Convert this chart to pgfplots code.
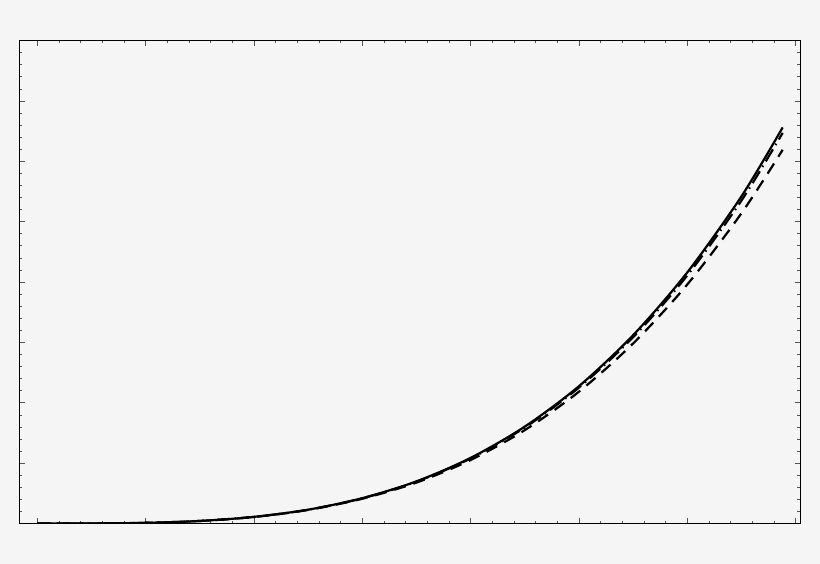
\documentclass[border=0pt]{standalone}
\usepackage{pgfplots}
\pgfplotsset{compat=1.18}
\definecolor{bg}{HTML}{F5F5F5}
\definecolor{tickgray}{HTML}{555555}
\begin{document}
\begin{tikzpicture}
% page background
\fill[bg] (-19.5bp,-40.5bp) rectangle (800.5bp,523.5bp);
\begin{axis}[
  scale only axis,
  width=780.5bp, height=483bp,
  xmin=-0.164, xmax=7.04,
  ymin=0, ymax=8,
  xtick={0,...,7}, ytick={0,...,8},
  minor x tick num=4, minor y tick num=4,
  xticklabels={}, yticklabels={},
  tick align=inside,
  major tick length=5bp, minor tick length=2.8bp,
  every tick/.style={tickgray, line width=0.6bp},
  axis line style={black, line width=0.9bp},
  axis background/.style={fill=bg},
]
\addplot[black, line width=2.2bp, smooth] coordinates {
  (0,0) (0.5,0.0011) (1,0.011) (1.5,0.042) (2,0.110) (2.5,0.229)
  (3,0.420) (3.5,0.698) (4,1.087) (4.5,1.605) (5,2.275)
  (5.5,3.12) (6,4.16) (6.5,5.42) (6.88,6.56)
};
\addplot[black, line width=2.2bp, smooth, dash pattern=on 12bp off 8bp] coordinates {
  (0,0) (0.5,0.0011) (1,0.0109) (1.5,0.0415) (2,0.108) (2.5,0.2245)
  (3,0.410) (3.5,0.678) (4,1.052) (4.5,1.547) (5,2.184)
  (5.5,2.983) (6,3.96) (6.5,5.14) (6.88,6.19)
};
\addplot[black, line width=2.2bp, smooth, dash pattern=on 14bp off 5bp on 1.5bp off 5bp] coordinates {
  (0,0) (0.5,0.0011) (1,0.011) (1.5,0.042) (2,0.1095) (2.5,0.228)
  (3,0.4175) (3.5,0.693) (4,1.078) (4.5,1.59) (5,2.252)
  (5.5,3.086) (6,4.11) (6.5,5.35) (6.88,6.47)
};
\end{axis}
\end{tikzpicture}
\end{document}
